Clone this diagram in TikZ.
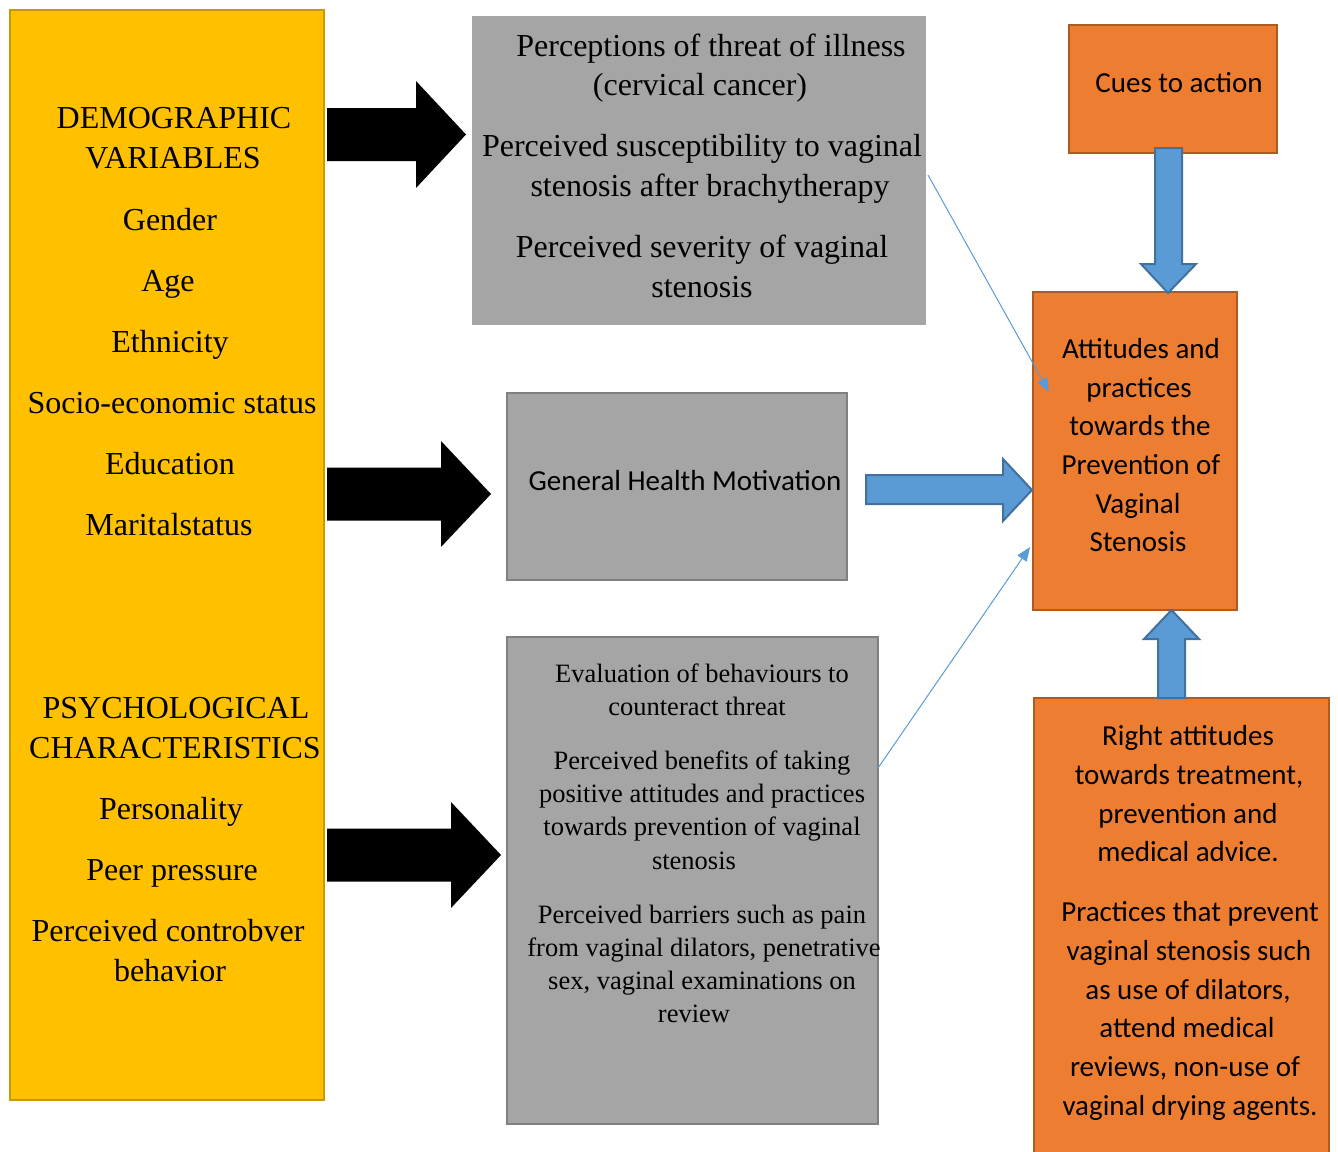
\documentclass[tikz,border=0pt]{standalone}
\usepackage{fontspec}
\setmainfont{Liberation Serif}
\newfontfamily\calib{Carlito}
\usetikzlibrary{arrows.meta,calc}
\definecolor{ylw}{HTML}{FFC000}
\definecolor{ylwb}{HTML}{C99A00}
\definecolor{gry}{HTML}{A5A5A5}
\definecolor{gryb}{HTML}{808080}
\definecolor{org}{HTML}{ED7D31}
\definecolor{orgb}{HTML}{AE5A21}
\definecolor{blu}{HTML}{5B9BD5}
\definecolor{blub}{HTML}{41719C}
\begin{document}
\begin{tikzpicture}[x=1pt,y=-1pt,
  box/.style={line width=2pt, inner sep=0pt, outer sep=0pt, anchor=north west},
  ybox/.style={box, fill=ylw, draw=ylwb},
  gbox/.style={box, fill=gry, draw=gryb},
  obox/.style={box, fill=org, draw=orgb},
  bigserif/.style={font=\fontsize{32}{40}\selectfont, anchor=base, inner sep=0pt},
  smallserif/.style={font=\fontsize{26.5}{33}\selectfont, anchor=base, inner sep=0pt},
  sanstext/.style={font=\calib\fontsize{29}{38}\selectfont, anchor=base, inner sep=0pt},
  blackarrow/.style={fill=black, draw=none},
  bluearrow/.style={fill=blu, draw=blub, line width=2pt, line join=miter},
  thinarrow/.style={draw=blu, line width=1pt, -{Triangle[length=14pt,width=11pt]}}
]
\useasboundingbox (0,0) rectangle (1338,1151);
\fill[white] (0,0) rectangle (1338,1151);

% boxes
\node[ybox, minimum width=314pt, minimum height=1090pt] (yel) at (10,10) {};
\node[box, fill=gry, draw=none, minimum width=454pt, minimum height=309pt] (g1) at (472,16) {};
\node[gbox, minimum width=340pt, minimum height=187pt] (g2) at (507,393) {};
\node[gbox, minimum width=371pt, minimum height=487pt] (g3) at (507,637) {};
\node[obox, minimum width=208pt, minimum height=128pt] (cues) at (1069,25) {};
\node[obox, minimum width=204pt, minimum height=318pt] (att) at (1033,292) {};
\node[obox, minimum width=295pt, minimum height=480pt] (rt) at (1034,698) {};

% black block arrows
\draw[blackarrow] (327,108) -- (416,108) -- (416,81) -- (466,134.5) -- (416,188) -- (416,161) -- (327,161) -- cycle;
\draw[blackarrow] (327,467.5) -- (441,467.5) -- (441,441) -- (491,494) -- (441,547) -- (441,520.5) -- (327,520.5) -- cycle;
\draw[blackarrow] (327,828.5) -- (451,828.5) -- (451,802) -- (501,855) -- (451,908) -- (451,881.5) -- (327,881.5) -- cycle;

% blue block arrows
\draw[bluearrow] (866,475) -- (1003,475) -- (1003,459) -- (1032,490) -- (1003,521) -- (1003,504) -- (866,504) -- cycle;
\draw[bluearrow] (1155,148) -- (1182,148) -- (1182,264) -- (1196,264) -- (1168,293) -- (1141,264) -- (1155,264) -- cycle;
\draw[bluearrow] (1158,698) -- (1158,639) -- (1144,639) -- (1171.5,610) -- (1199,639) -- (1185,639) -- (1185,698) -- cycle;

% thin connectors
\coordinate (t1s) at ($(g1.north east)+(2,159)$);
\coordinate (t1e) at (1049,392);
\coordinate (t2s) at ($(g3.north east)+(0,131)$);
\coordinate (t2e) at (1030,547);
\draw[thinarrow] (t1s) -- (t1e);
\draw[thinarrow] (t2s) -- (t2e);

% yellow box text
\foreach \yy/\xx/\txt [count=\i] in {
  128/174/DEMOGRAPHIC, 168/173/VARIABLES, 230/170/Gender, 291/168/Age,
  352/170/Ethnicity, 413/172/Socio-economic status, 474/170/Education,
  535/169/Maritalstatus, 718/176/PSYCHOLOGICAL, 758/175/CHARACTERISTICS,
  819/171/Personality, 880/172/Peer pressure, 941/168/Perceived controbver,
  981/170/behavior}
  \node[bigserif] (yt\i) at (\xx,\yy) {\txt};

% gray box 1 text
\foreach \yy/\xx/\txt [count=\i] in {
  56/711/Perceptions of threat of illness, 95/700/(cervical cancer),
  156/702/Perceived susceptibility to vaginal, 196/710/stenosis after brachytherapy,
  257/702/Perceived severity of vaginal, 297/702/stenosis}
  \node[bigserif] (ga\i) at (\xx,\yy) {\txt};

% gray box 2 text
\node[sanstext] (ghm) at (685,490) {General Health Motivation};

% gray box 3 text
\foreach \yy/\xx/\txt [count=\i] in {
  682/702/Evaluation of behaviours to, 715/697/counteract threat,
  769/702/Perceived benefits of taking, 802/702/positive attitudes and practices,
  835/702/towards prevention of vaginal, 869/694/stenosis,
  923/702/Perceived barriers such as pain, 956/704/{from vaginal dilators, penetrative},
  989/702/{sex, vaginal examinations on}, 1022/694/review}
  \node[smallserif] (gc\i) at (\xx,\yy) {\txt};

% orange texts
\node[sanstext] (cuet) at (1179,92) {Cues to action};
\foreach \yy/\xx/\txt [count=\i] in {
  358/1141/Attitudes and, 397/1139/practices, 435/1140/towards the,
  474/1141/Prevention of, 513/1138/Vaginal, 551/1138/Stenosis}
  \node[sanstext] (at\i) at (\xx,\yy) {\txt};
\foreach \yy/\xx/\txt [count=\i] in {
  745/1188/Right attitudes, 784/1189/{towards treatment,}, 823/1188/prevention and,
  861/1188/medical advice., 921/1190/Practices that prevent, 960/1189/vaginal stenosis such,
  999/1188/{as use of dilators,}, 1037/1187/attend medical, 1076/1185/{reviews, non-use of},
  1115/1190/vaginal drying agents.}
  \node[sanstext] (rt\i) at (\xx,\yy) {\txt};
\end{tikzpicture}
\end{document}
